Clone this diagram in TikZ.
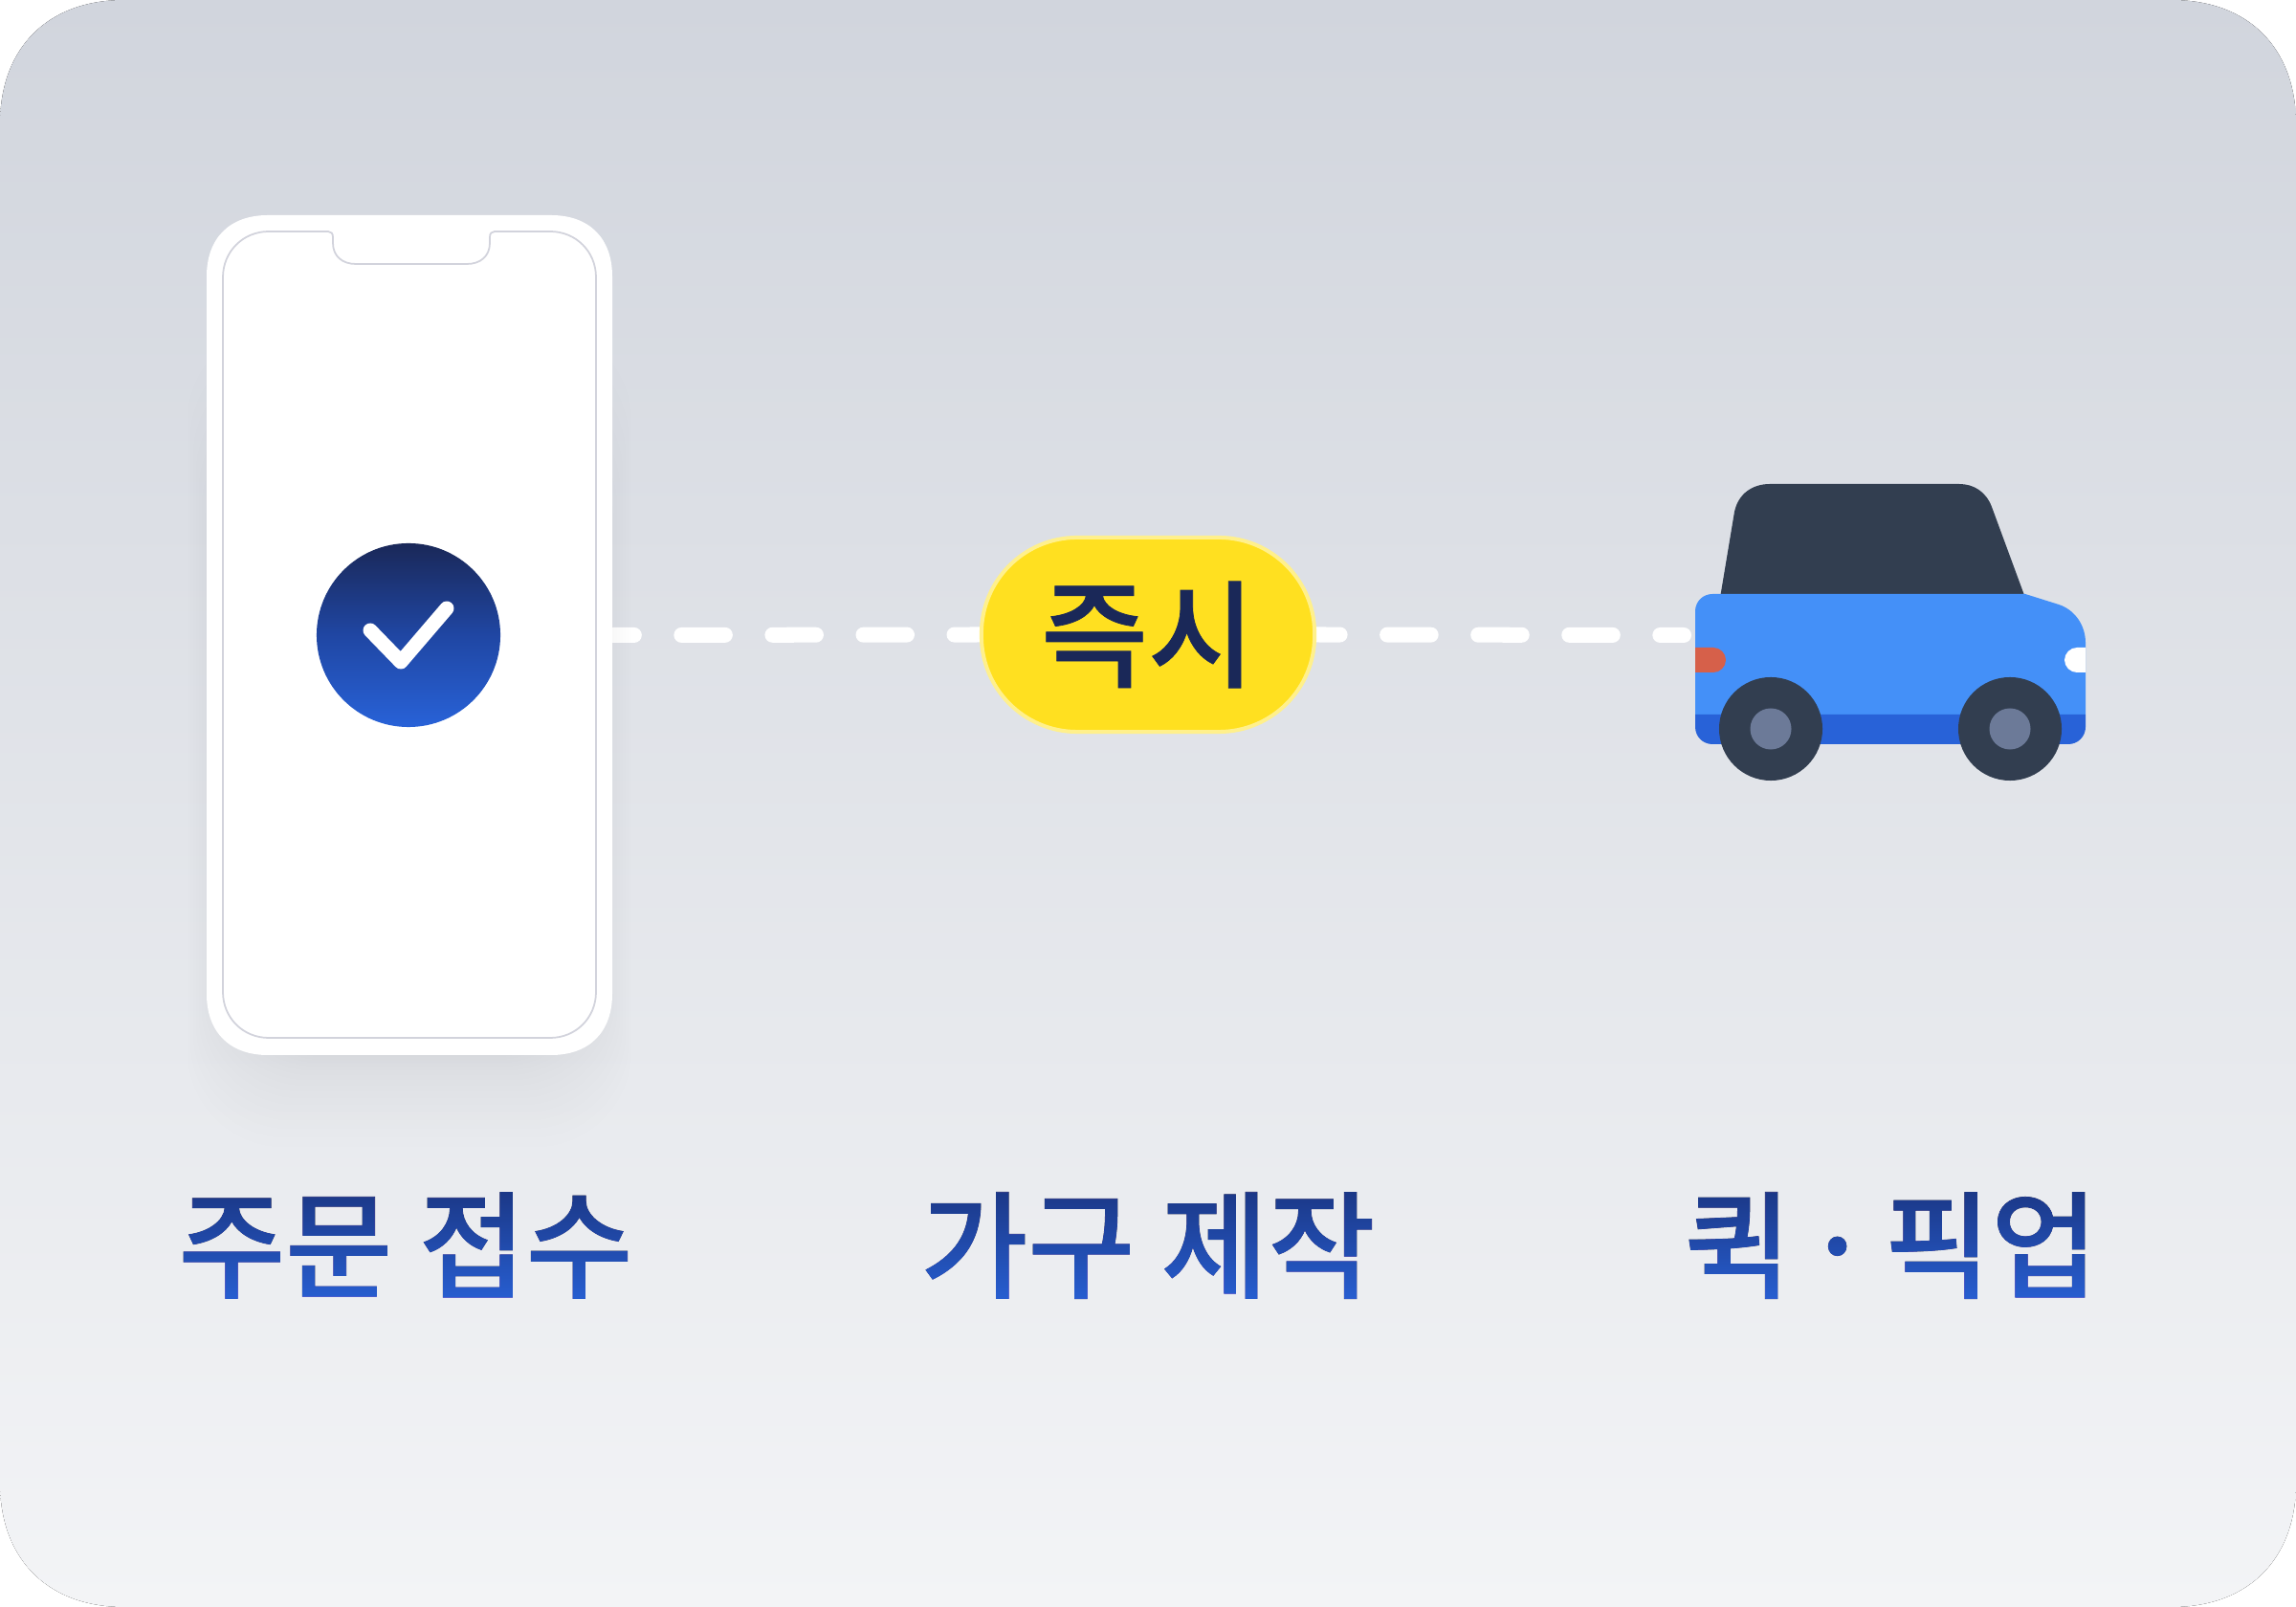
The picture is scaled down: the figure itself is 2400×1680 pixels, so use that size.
\documentclass[tikz,border=0pt]{standalone}
\usepackage{fontspec}
\newfontfamily\krfont[FakeBold=0.6]{Noto Sans CJK KR Medium}
\definecolor{cardTop}{HTML}{D1D5DD}
\definecolor{cardBottom}{HTML}{F3F4F6}
\definecolor{screenLine}{HTML}{D2D3DC}
\definecolor{shadowGrey}{HTML}{808692}
\definecolor{navyDark}{HTML}{1A2858}
\definecolor{navyMid}{HTML}{1A3480}
\definecolor{brandBlue}{HTML}{2862D8}
\definecolor{badgeYellow}{HTML}{FFE020}
\definecolor{badgeEdge}{HTML}{FFF08C}
\definecolor{carBlue}{HTML}{4490F8}
\definecolor{carDark}{HTML}{323E50}
\definecolor{hubGrey}{HTML}{6C7A98}
\definecolor{tailRed}{HTML}{D6604A}
\usetikzlibrary{backgrounds}
% x0, y0, x1, y1, corner length, control offset
\newcommand{\softrect}[6]{
    (#1+#5,#2) -- (#3-#5,#2) .. controls (#3-#6,#2) and (#3,#2+#6) .. (#3,#2+#5)
    -- (#3,#4-#5) .. controls (#3,#4-#6) and (#3-#6,#4) .. (#3-#5,#4)
    -- (#1+#5,#4) .. controls (#1+#6,#4) and (#1,#4-#6) .. (#1,#4-#5)
    -- (#1,#2+#5) .. controls (#1,#2+#6) and (#1+#6,#2) .. (#1+#5,#2) -- cycle
}

\begin{document}
\begin{tikzpicture}[x=0.01cm, y=-0.01cm]
    \tikzset{
        steplabel/.style={font=\krfont\fontsize{34.6pt}{34.6pt}\selectfont, text=navyDark, inner sep=0pt},
        steptint/.style={blend mode=lighten, top color=navyMid, bottom color=brandBlue},
        dashline/.style={white, line width=0.16cm, line cap=round, dash pattern=on 0.455cm off 0.495cm},
    }
    \useasboundingbox (0,0) rectangle (2400,1680);

    % Phone
    \foreach \i in {0,...,20}{
        \fill[shadowGrey, opacity=0.009, rounded corners=1.0cm]
            (256-3*\i,700-18*\i) rectangle (600+3*\i,1099+0.25*\i*\i);
    }
    \node[minimum width=4.24cm, minimum height=8.78cm, inner sep=0pt] (phone) at (428,664) {};
    \fill[white] \softrect{216}{225}{640}{1103}{64}{24};
    \draw[screenLine, line width=0.5pt, fill=white]
        (281,242) -- (343,242) .. controls (346,242) and (348,244) .. (348,248) -- (348,254)
        .. controls (348,268) and (358,276) .. (372,276) -- (488,276)
        .. controls (502,276) and (512,268) .. (512,254) -- (512,248)
        .. controls (512,244) and (514,242) .. (517,242) -- (575,242)
        .. controls (602,242) and (623,263) .. (623,290) -- (623,1037)
        .. controls (623,1064) and (602,1085) .. (575,1085) -- (281,1085)
        .. controls (254,1085) and (233,1064) .. (233,1037) -- (233,290)
        .. controls (233,263) and (254,242) .. (281,242) -- cycle;

    % Check mark
    \node[circle, minimum size=1.92cm, inner sep=0pt, top color=navyDark, bottom color=brandBlue, middle color=navyMid!60!brandBlue] (check) at (427,664) {};
    \draw[white, line width=0.15cm, line cap=round, line join=round] (387,659) -- (419,692) -- (467,636);

    % Badge
    \node[rounded corners=1.0cm, draw=badgeEdge, fill=badgeYellow, line width=0.04cm, minimum width=3.48cm, minimum height=2.03cm, inner sep=0pt,
        font=\krfont\fontsize{34.6pt}{34.6pt}\selectfont, text=navyDark] (badge) at (1200,663.5) {즉시};

    % Car
    \coordinate (carrear) at (1760,664);
    \fill[carDark] (1798,625) -- (1813,535) .. controls (1817,516) and (1832,506) .. (1850,506) -- (2048,506)
        .. controls (2063,506) and (2076,514) .. (2082,530) -- (2117,625) -- cycle;
    \fill[carBlue] (1772,747) -- (1772,639) .. controls (1772,629) and (1780,621) .. (1790,621) -- (2117,621) -- (2152,632)
        .. controls (2170,638) and (2180,655) .. (2180,672) -- (2180,747) -- cycle;
    \fill[brandBlue] (1772,747) -- (1772,760) .. controls (1772,770) and (1780,778) .. (1790,778) -- (2162,778)
        .. controls (2172,778) and (2180,770) .. (2180,760) -- (2180,747) -- cycle;
    \fill[tailRed] (1772,677) -- (1791,677) .. controls (1798,677) and (1804,683) .. (1804,690)
        .. controls (1804,697) and (1798,703) .. (1791,703) -- (1772,703) -- cycle;
    \fill[white] (2180,677) -- (2171,677) .. controls (2164,677) and (2158,683) .. (2158,690)
        .. controls (2158,697) and (2164,703) .. (2171,703) -- (2180,703) -- cycle;
    \foreach \wx in {1851,2101}{
        \fill[carDark] (\wx,762) circle (0.54cm);
        \fill[hubGrey] (\wx,762) circle (0.215cm);
    }

    % Labels
    \node[steplabel] (order) at (424,1302) {주문 접수};
    \node[steplabel] (make) at (1200,1302) {가구 제작};
    \node[steplabel] (pickup) at (1977,1302) {퀵\kern-0.14cm{} · \kern-0.14cm{}픽업};
    \fill[steptint] (150,1235) rectangle (2230,1370);

    \begin{scope}[on background layer]
        \fill[top color=cardTop, bottom color=cardBottom] \softrect{0}{0}{2400}{1680}{130}{50};
        \draw[dashline, dash phase=0.235cm] (phone.east) -- (badge.west);
        \draw[dashline, dash phase=0.21cm] (badge.east) -- (carrear);
    \end{scope}
\end{tikzpicture}
\end{document}
